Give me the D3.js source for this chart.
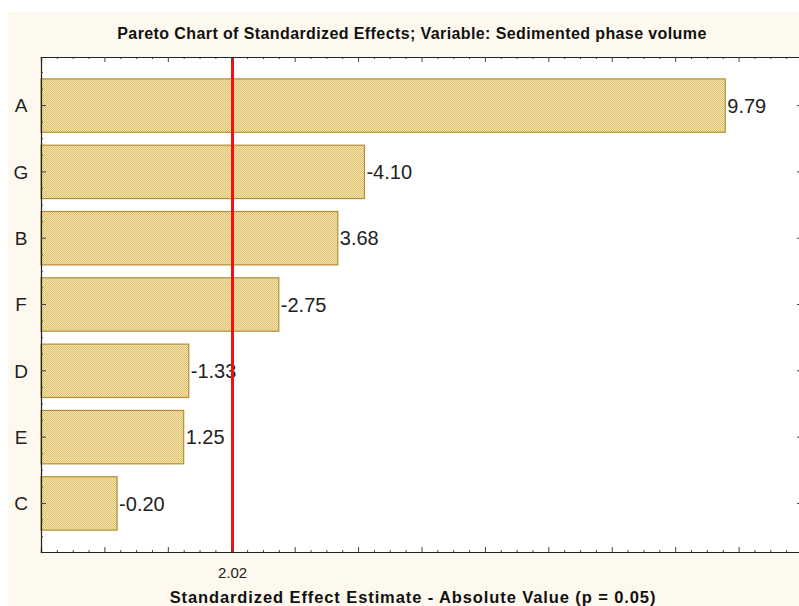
<!DOCTYPE html>
<html><head><meta charset="utf-8">
<script src="https://cdn.jsdelivr.net/npm/d3@7"></script>
<style>html,body{margin:0;padding:0;background:#fff;overflow:hidden}</style>
</head><body>
<script>
const categories = ["A", "G", "B", "F", "D", "E", "C"];
const effects = [9.79, -4.10, 3.68, -2.75, -1.33, 1.25, -0.20];
const criticalValue = 2.02;
const xDomain = [-1, 11];
const titleText = "Pareto Chart of Standardized Effects; Variable: Sedimented phase volume";
const xTitleText = "Standardized Effect Estimate - Absolute Value (p = 0.05)";

(function () {
const W = 799, H = 606;
const pL = 41, pR = 802, pT = 57, pB = 552;

const svg = d3.select("body").append("svg").attr("width", W).attr("height", H)
  .style("font-family", "Arial, 'Liberation Sans', sans-serif");

const defs = svg.append("defs");
const pat = defs.append("pattern").attr("id", "hatch").attr("patternUnits", "userSpaceOnUse")
  .attr("width", 2).attr("height", 2);
pat.append("rect").attr("width", 2).attr("height", 2).attr("fill", "#f4e4b0");
pat.append("rect").attr("width", 1).attr("height", 1).attr("fill", "#dcc170");
pat.append("rect").attr("x", 1).attr("y", 1).attr("width", 1).attr("height", 1).attr("fill", "#dcc170");

svg.append("rect").attr("x", 0).attr("y", 0).attr("width", W).attr("height", H).attr("fill", "#ffffff");
svg.append("rect").attr("x", 8).attr("y", 12).attr("width", W - 8).attr("height", H - 12).attr("fill", "#fdf9ee");
svg.append("rect").attr("x", pL).attr("y", pT).attr("width", pR - pL).attr("height", pB - pT).attr("fill", "#ffffff");

const x = d3.scaleLinear().domain(xDomain).range([pL, pR]);
const y = d3.scaleBand().domain(categories).range([pT, pB]).paddingInner(0.195).paddingOuter(0.33);

// bars
svg.append("g").selectAll("rect").data(effects).join("rect")
  .attr("x", x(xDomain[0]))
  .attr("y", (d, i) => y(categories[i]))
  .attr("width", d => x(Math.abs(d)) - x(xDomain[0]))
  .attr("height", y.bandwidth())
  .attr("fill", "url(#hatch)")
  .attr("stroke", "#b48e36").attr("stroke-width", 1.2);

// value labels
const fmt = d3.format(".2f");
svg.append("g").selectAll("text").data(effects).join("text")
  .attr("x", d => x(Math.abs(d)) + 2)
  .attr("y", (d, i) => y(categories[i]) + y.bandwidth() / 2)
  .attr("dy", "0.36em")
  .attr("font-size", 20).attr("fill", "#222")
  .text(d => fmt(d).replace("\u2212", "-"));

// critical line
svg.append("line").attr("x1", x(criticalValue)).attr("x2", x(criticalValue))
  .attr("y1", pT).attr("y2", pB).attr("stroke", "#ec1313").attr("stroke-width", 3);

// axes
const majorX = d3.range(xDomain[0], xDomain[1] + 0.001, 1);
const minorX = d3.range(xDomain[0], xDomain[1] + 0.001, 0.25).filter(v => Math.abs(v - Math.round(v)) > 1e-6);

function styleAxis(g) {
  g.selectAll("path").attr("stroke", "#222").attr("stroke-width", 1.2);
  g.selectAll("line").attr("stroke", "#444");
}
svg.append("g").attr("transform", `translate(0,${pB})`).call(d3.axisBottom(x).tickValues(minorX).tickSize(-2).tickFormat("")).call(styleAxis);
svg.append("g").attr("transform", `translate(0,${pB})`).call(d3.axisBottom(x).tickValues(majorX).tickSize(-5).tickFormat("")).call(styleAxis);
svg.append("g").attr("transform", `translate(0,${pT})`).call(d3.axisTop(x).tickValues(minorX).tickSize(-2).tickFormat("")).call(styleAxis);
svg.append("g").attr("transform", `translate(0,${pT})`).call(d3.axisTop(x).tickValues(majorX).tickSize(-5).tickFormat("")).call(styleAxis);

// critical value tick label
svg.append("text").attr("x", x(criticalValue)).attr("y", 578)
  .attr("text-anchor", "middle").attr("font-size", 15).attr("fill", "#222")
  .text(fmt(criticalValue));

// y axes
const step = y.step();
const yMinorVals = [];
categories.forEach(c => {
  const cy = y(c) + y.bandwidth() / 2;
  [-0.5, -0.25, 0.25, 0.5].forEach(f => yMinorVals.push(Math.round((cy + f * step) * 10) / 10));
});
const uniqMinor = Array.from(new Set(yMinorVals)).filter(v => v > pT + 1 && v < pB - 1);
svg.append("g").attr("transform", `translate(${pL},0)`).call(d3.axisLeft(y).tickSize(-5).tickFormat("")).call(styleAxis);
svg.append("g").attr("transform", `translate(${pR},0)`).call(d3.axisRight(y).tickSize(-5).tickFormat("")).call(styleAxis);
svg.append("g").selectAll("line").data(uniqMinor).join("line")
  .attr("x1", pL).attr("x2", pL + 2).attr("y1", d => d).attr("y2", d => d).attr("stroke", "#444");
svg.append("g").selectAll("line").data(uniqMinor).join("line")
  .attr("x1", pR - 2).attr("x2", pR).attr("y1", d => d).attr("y2", d => d).attr("stroke", "#444");

// category labels
svg.append("g").selectAll("text").data(categories).join("text")
  .attr("x", 21).attr("y", d => y(d) + y.bandwidth() / 2).attr("dy", "0.36em")
  .attr("text-anchor", "middle").attr("font-size", 19).attr("fill", "#222")
  .text(d => d);

// titles
svg.append("text").attr("x", 412).attr("y", 39).attr("text-anchor", "middle")
  .attr("font-size", 16).attr("letter-spacing", 0.4).attr("font-weight", "bold").attr("fill", "#111").text(titleText);
svg.append("text").attr("x", 413).attr("y", 603).attr("text-anchor", "middle")
  .attr("font-size", 16.5).attr("letter-spacing", 0.9).attr("font-weight", "bold").attr("fill", "#111").text(xTitleText);
})();
</script>
</body></html>
